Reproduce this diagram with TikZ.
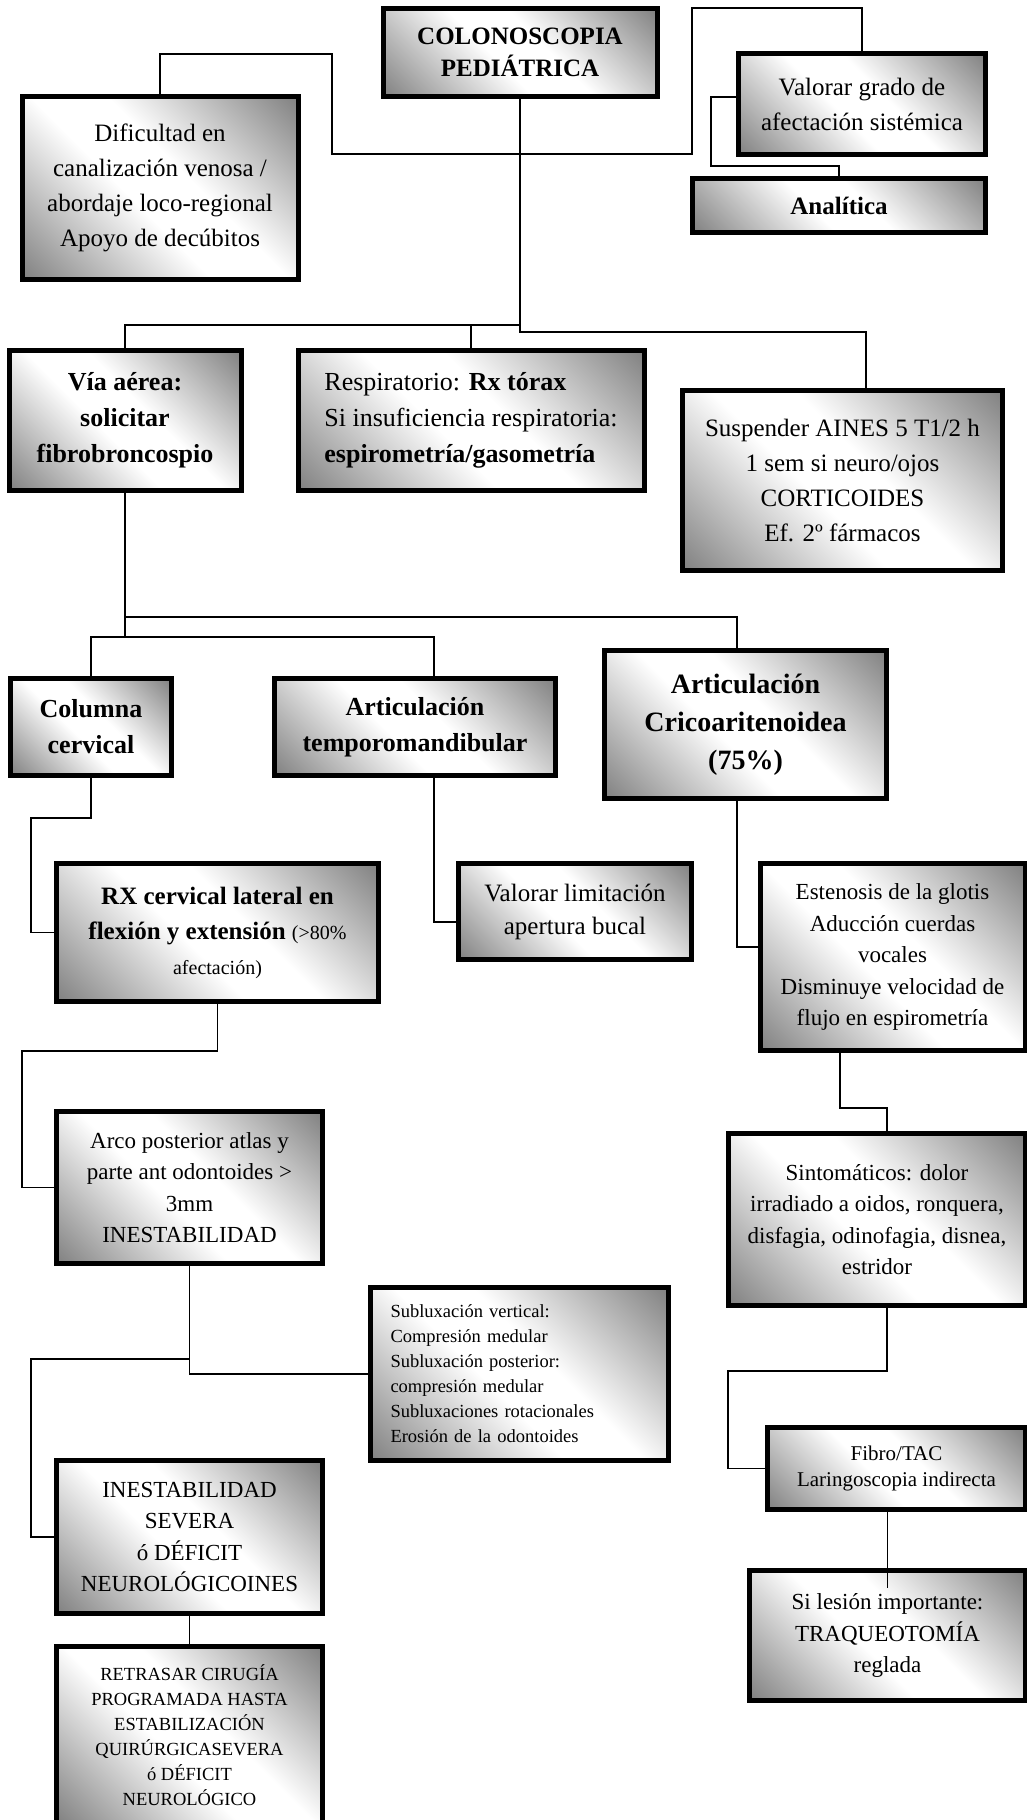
\documentclass[tikz,border=0pt]{standalone}
\usepackage{fontspec}
\setmainfont{Liberation Serif}
\usepackage{xcolor}
\definecolor{boxgray}{RGB}{100,100,100}
\pgfdeclareverticalshading{diagbox}{100bp}{color(0bp)=(boxgray); color(8bp)=(boxgray); color(44bp)=(white); color(56bp)=(white); color(92bp)=(boxgray); color(100bp)=(boxgray)}

\begin{document}
\begin{tikzpicture}[x=1pt, y=-1pt,
    box/.style={draw=black, line width=5pt, shade, shading=diagbox, shading angle=-45, align=center, inner sep=0pt},
    txtlarge/.style={font=\fontsize{28}{38}\selectfont},
    txthead/.style={font=\fontsize{26}{36}\selectfont},
    txtbig/.style={font=\fontsize{25}{35}\selectfont},
    txtmid/.style={font=\fontsize{23}{31.5}\selectfont},
    txtfibro/.style={font=\fontsize{21}{26}\selectfont},
    txtsmall/.style={font=\fontsize{18.5}{25}\selectfont},
    link/.style={line width=1.3pt, black}
]
    \useasboundingbox (0,0) rectangle (1027,1820);
    \clip (0,0) rectangle (1027,1820);

    % Top
    \node[box, font=\fontsize{25}{32}\selectfont, minimum width=274pt, minimum height=88pt] (colono) at (520,52.5) {\textbf{COLONOSCOPIA}\\\textbf{PEDIÁTRICA}};
    \node[box, txtbig, minimum width=276pt, minimum height=183pt] (dificultad) at (160,188) {Dificultad en\\canalización venosa /\\abordaje loco-regional\\Apoyo de decúbitos};
    \node[box, txtbig, minimum width=247pt, minimum height=101pt] (valorar) at (862,104) {Valorar grado de\\afectación sistémica};
    \node[box, txtbig, minimum width=293pt, minimum height=54pt] (analitica) at (839,205.5) {\textbf{Analítica}};

    % Second row
    \node[box, txthead, minimum width=232pt, minimum height=140pt] (via) at (125,420.5) {\textbf{Vía aérea:}\\\textbf{solicitar}\\\textbf{fibrobroncospio}};
    \node[box, txthead, align=left, minimum width=346pt, minimum height=140pt] (respira) at (471,420.5) {Respiratorio: \textbf{Rx tórax}\\Si insuficiencia respiratoria:\\\textbf{espirometría/gasometría}};
    \node[box, txtbig, minimum width=320pt, minimum height=180pt] (suspender) at (842.5,480.5) {Suspender AINES 5 T1/2 h\\1 sem si neuro/ojos\\CORTICOIDES\\Ef. 2º fármacos};

    % Joints
    \node[box, txthead, minimum width=161pt, minimum height=97pt] (columna) at (91,727) {\textbf{Columna}\\\textbf{cervical}};
    \node[box, txthead, minimum width=281pt, minimum height=97pt] (temporo) at (415,727) {\textbf{Articulación}\\\textbf{temporomandibular}};
    \node[box, txtlarge, minimum width=282pt, minimum height=148pt] (crico) at (745.5,724.5) {\textbf{Articulación}\\\textbf{Cricoaritenoidea}\\\textbf{(75\%)}};

    % Fourth row
    \node[box, txtbig, minimum width=322pt, minimum height=138pt] (rxcerv) at (217.5,932.5) {\textbf{RX cervical lateral en}\\\textbf{flexión y extensión} {\fontsize{20}{30}\selectfont(>80\%}\\{\fontsize{20}{30}\selectfont afectación)}};
    \node[box, font=\fontsize{25}{33}\selectfont, minimum width=233pt, minimum height=96pt] (limitacion) at (575,911.5) {Valorar limitación\\apertura bucal};
    \node[box, txtmid, minimum width=265pt, minimum height=187pt] (estenosis) at (892.5,957) {Estenosis de la glotis\\Aducción cuerdas\\vocales\\Disminuye velocidad de\\flujo en espirometría};

    % Lower part
    \node[box, txtmid, minimum width=266pt, minimum height=152pt] (arco) at (189.5,1187.5) {Arco posterior atlas y\\parte ant odontoides >\\3mm\\INESTABILIDAD};
    \node[box, txtmid, minimum width=297pt, minimum height=172pt] (sintomas) at (877,1219.5) {Sintomáticos: dolor\\irradiado a oidos, ronquera,\\disfagia, odinofagia, disnea,\\estridor};
    \node[box, txtsmall, align=left, text width=258pt, inner xsep=20pt, minimum height=173pt] (sublux) at (519.5,1374) {Subluxación vertical:\\Compresión medular\\Subluxación posterior:\\compresión medular\\Subluxaciones rotacionales\\Erosión de la odontoides};
    \node[box, txtfibro, minimum width=258pt, minimum height=82pt] (fibro) at (896.5,1468.5) {Fibro/TAC\\Laringoscopia indirecta};
    \node[box, txtmid, minimum width=276pt, minimum height=130pt] (lesion) at (887.5,1635.5) {Si lesión importante:\\TRAQUEOTOMÍA\\reglada};
    \node[box, txtmid, minimum width=266pt, minimum height=153pt] (inestab) at (189.5,1537) {INESTABILIDAD\\SEVERA\\ó DÉFICIT\\NEUROLÓGICOINES};
    \node[box, txtsmall, minimum width=266pt, minimum height=177pt] (retrasar) at (189.5,1735) {RETRASAR CIRUGÍA\\PROGRAMADA HASTA\\ESTABILIZACIÓN\\QUIRÚRGICASEVERA\\ó DÉFICIT\\NEUROLÓGICO};

    % Connections from the top box
    \draw[link] (colono.south) -- ++(0,226) -| (via.north);
    \draw[link] (colono.south) -- ++(0,226) -| (respira.north);
    \draw[link] (colono.south) -- ++(0,233) -| ([xshift=23.5pt]suspender.north);
    \draw[link] (dificultad.north) |- (332,54) |- (692,154) |- (862,8) -- (valorar.north);
    \draw[link] ([yshift=7pt]valorar.west) -| (711,166) -| (analitica.north);

    % Airway branches
    \draw[link] (via.south) -- ++(0,124) -| ([xshift=-8.5pt]crico.north);
    \draw[link] (via.south) -- ++(0,144) -| (columna.north);
    \draw[link] (via.south) -- ++(0,144) -| ([xshift=19pt]temporo.north);

    \draw[link] (columna.south) |- (31,818) |- (rxcerv.west);
    \draw[link] ([xshift=19pt]temporo.south) |- ([yshift=-10.5pt]limitacion.west);
    \draw[link] ([xshift=-8.5pt]crico.south) |- ([yshift=10pt]estenosis.west);

    \draw[link] (rxcerv.south) |- (22,1051) |- (arco.west);
    \draw[link] ([xshift=-52.5pt]estenosis.south) -- ++(0,55) -| ([xshift=10pt]sintomas.north);

    \draw[link] (arco.south) |- (sublux.west);
    \draw[link] (arco.south) |- (31,1359) |- (inestab.west);
    \draw[link] ([xshift=10pt]sintomas.south) |- (728,1371) |- (fibro.west);
    \draw[link] ([xshift=-9pt]fibro.south) -- ([yshift=-20pt]lesion.north);
    \draw[link] (inestab.south) -- (retrasar.north);
\end{tikzpicture}
\end{document}
